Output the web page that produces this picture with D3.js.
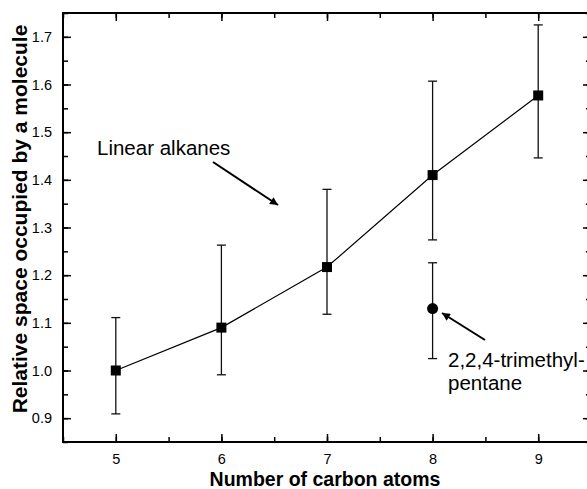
<!DOCTYPE html>
<html><head><meta charset="utf-8">
<script src="https://cdn.jsdelivr.net/npm/d3@7"></script>
<style>html,body{margin:0;padding:0;background:#fff;overflow:hidden}svg{display:block}</style>
</head><body>
<script>
const carbons = [5, 6, 7, 8, 9];
const linearMean = [1.000, 1.090, 1.217, 1.410, 1.577];
const linearLow  = [0.909, 0.991, 1.118, 1.274, 1.446];
const linearHigh = [1.111, 1.263, 1.380, 1.607, 1.725];
const branchedX = [8];
const branchedMean = [1.130];
const branchedLow = [1.025];
const branchedHigh = [1.226];
const xTicks = [5, 6, 7, 8, 9];
const yTicks = [0.9, 1.0, 1.1, 1.2, 1.3, 1.4, 1.5, 1.6, 1.7];
const xTitle = "Number of carbon atoms";
const yTitle = "Relative space occupied by a molecule";
const annLinear = "Linear alkanes";
const annBranched = ["2,2,4-trimethyl-", "pentane"];

const W = 587, H = 489;
const font = "'Liberation Sans', Arial, Helvetica, sans-serif";
const svg = d3.select("body").append("svg").attr("width", W).attr("height", H)
  .style("font-family", font);

const x = d3.scaleLinear().domain([4.5, 9.5]).range([63, 591]);
const y = d3.scaleLinear().domain([0.85, 1.75]).range([442, 13]);

const defs = svg.append("defs");
defs.append("marker").attr("id", "ah").attr("viewBox", "0 0 10 10")
  .attr("refX", 10).attr("refY", 5).attr("markerWidth", 11).attr("markerHeight", 8)
  .attr("markerUnits", "userSpaceOnUse").attr("orient", "auto")
  .append("path").attr("d", "M0,0 L10,5 L0,10 Z").attr("fill", "#000");

const xMinor = d3.range(4.5, 9.51, 0.5);
const yMinor = d3.range(0.85, 1.751, 0.05);

function styleAxis(g) {
  g.select(".domain").remove();
  g.selectAll("line").attr("stroke", "#000").attr("stroke-width", 1.5);
}

// bottom axis
const gb = svg.append("g").attr("transform", `translate(0,${y.range()[0]})`)
  .call(d3.axisBottom(x).tickValues(xTicks).tickFormat(d3.format("d")).tickSizeInner(-8).tickSizeOuter(0).tickPadding(12));
styleAxis(gb);
gb.selectAll("text").attr("font-size", "14.5px").attr("fill", "#000").attr("font-family", font);
svg.append("g").attr("transform", `translate(0,${y.range()[0]})`)
  .call(d3.axisBottom(x).tickValues(xMinor).tickFormat("").tickSizeInner(-5).tickSizeOuter(0)).call(styleAxis);

// top axis
svg.append("g").attr("transform", `translate(0,${y.range()[1]})`)
  .call(d3.axisTop(x).tickValues(xTicks).tickFormat("").tickSizeInner(-8).tickSizeOuter(0)).call(styleAxis);
svg.append("g").attr("transform", `translate(0,${y.range()[1]})`)
  .call(d3.axisTop(x).tickValues(xMinor).tickFormat("").tickSizeInner(-5).tickSizeOuter(0)).call(styleAxis);

// left axis
const gl = svg.append("g").attr("transform", `translate(${x.range()[0]},0)`)
  .call(d3.axisLeft(y).tickValues(yTicks).tickFormat(d3.format(".1f")).tickSizeInner(-8).tickSizeOuter(0).tickPadding(11));
styleAxis(gl);
gl.selectAll("text").attr("font-size", "14.5px").attr("fill", "#000").attr("font-family", font);
svg.append("g").attr("transform", `translate(${x.range()[0]},0)`)
  .call(d3.axisLeft(y).tickValues(yMinor).tickFormat("").tickSizeInner(-5).tickSizeOuter(0)).call(styleAxis);

// right axis
svg.append("g").attr("transform", `translate(${x.range()[1]},0)`)
  .call(d3.axisRight(y).tickValues(yTicks).tickFormat("").tickSizeInner(-8).tickSizeOuter(0)).call(styleAxis);
svg.append("g").attr("transform", `translate(${x.range()[1]},0)`)
  .call(d3.axisRight(y).tickValues(yMinor).tickFormat("").tickSizeInner(-5).tickSizeOuter(0)).call(styleAxis);

// frame
svg.append("rect").attr("x", x.range()[0]).attr("y", y.range()[1])
  .attr("width", x.range()[1] - x.range()[0]).attr("height", y.range()[0] - y.range()[1])
  .attr("fill", "none").attr("stroke", "#000").attr("stroke-width", 2);

// error bars
const cap = 4.5;
function errorBars(xs, lo, hi) {
  const g = svg.append("g").attr("stroke", "#111").attr("stroke-width", 1.3);
  xs.forEach((c, i) => {
    g.append("line").attr("x1", x(c)).attr("x2", x(c)).attr("y1", y(lo[i])).attr("y2", y(hi[i]));
    g.append("line").attr("x1", x(c) - cap).attr("x2", x(c) + cap).attr("y1", y(lo[i])).attr("y2", y(lo[i]));
    g.append("line").attr("x1", x(c) - cap).attr("x2", x(c) + cap).attr("y1", y(hi[i])).attr("y2", y(hi[i]));
  });
}
errorBars(carbons, linearLow, linearHigh);
errorBars(branchedX, branchedLow, branchedHigh);

// line
svg.append("path").datum(carbons.map((c, i) => [c, linearMean[i]]))
  .attr("d", d3.line().x(d => x(d[0])).y(d => y(d[1])))
  .attr("fill", "none").attr("stroke", "#000").attr("stroke-width", 1.2);

// markers
svg.append("g").selectAll("rect").data(carbons).join("rect")
  .attr("x", (d) => x(d) - 5).attr("y", (d, i) => y(linearMean[i]) - 5)
  .attr("width", 10).attr("height", 10).attr("fill", "#000");
svg.append("g").selectAll("circle").data(branchedX).join("circle")
  .attr("cx", d => x(d)).attr("cy", (d, i) => y(branchedMean[i])).attr("r", 5.5).attr("fill", "#000");

// annotations
svg.append("text").attr("x", 97).attr("y", 155).attr("font-size", "20.5px").text(annLinear);
svg.append("line").attr("x1", 213).attr("y1", 162).attr("x2", 278).attr("y2", 205)
  .attr("stroke", "#000").attr("stroke-width", 2).attr("marker-end", "url(#ah)");

svg.append("text").attr("x", 448).attr("y", 367).attr("font-size", "20.5px").text(annBranched[0]);
svg.append("text").attr("x", 448).attr("y", 390).attr("font-size", "20.5px").text(annBranched[1]);
svg.append("line").attr("x1", 485).attr("y1", 340).attr("x2", 442).attr("y2", 313)
  .attr("stroke", "#000").attr("stroke-width", 2).attr("marker-end", "url(#ah)");

// titles
svg.append("text").attr("x", 325).attr("y", 486).attr("text-anchor", "middle")
  .attr("font-size", "19.5px").attr("font-weight", "bold").text(xTitle);
svg.append("text").attr("transform", `translate(27,219) rotate(-90)`)
  .attr("text-anchor", "middle").attr("font-size", "21px").attr("font-weight", "bold").text(yTitle);
</script>
</body></html>
